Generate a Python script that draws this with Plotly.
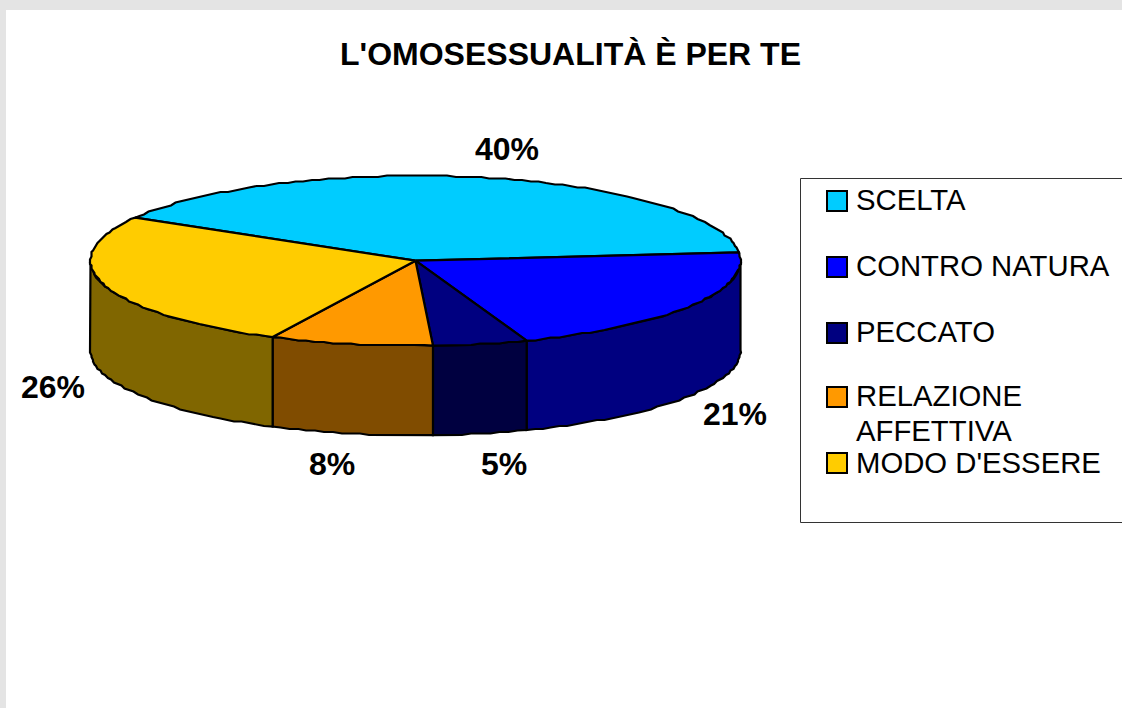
import numpy as np
import plotly.graph_objects as go

# --- data ---
TITLE = "L'OMOSESSUALITÀ È PER TE"
CATEGORIES = ["SCELTA", "CONTRO NATURA", "PECCATO", "RELAZIONE", "MODO D'ESSERE"]
CATEGORY_SECOND_LINE = {"RELAZIONE": "AFFETTIVA"}
VALUES = [40.0, 21.0, 4.7, 8.1, 26.2]

# --- styles ---
TOP_COLORS = ["#00ccff", "#0000ff", "#000080", "#ff9900", "#ffcc00"]
SIDE_COLORS = ["#006680", "#000080", "#000040", "#804c00", "#806600"]
FONT = "Liberation Sans"

# --- layout (axes are in page pixels) ---
W, H = 1122, 708
CX, CY, RX, RY, DEPTH = 415.5, 260.7, 325.0, 85.0, 89.5
START_DEG = 149.6
SNAP = 1.5  # the reference's outline is slightly stepped from upscaling
STEP_DEG = 1.5
LABEL_ANCHORS = [(507, 149), (735, 414), (504, 464), (332, 464), (53, 387)]
LEGEND_X_MARK, LEGEND_X_TEXT = 837, 855.5
LEGEND_Y = [201, 267, 333, 397, 463]
LEGEND_TEXT_TOP = [183, 249, 315, 379, 446]
SECOND_LINE_TOP = 414
BOX = (800.5, 178.5, 1125, 522.5)


def ell(deg, dy=0.0):
    a = np.radians(deg)
    x = CX + RX * np.cos(a)
    y = CY - RY * np.sin(a) + dy
    ends_x, ends_y = x[[0, -1]], y[[0, -1]]
    x = np.round(x / SNAP) * SNAP
    y = np.round(y / SNAP) * SNAP
    x[[0, -1]], y[[0, -1]] = ends_x, ends_y
    return x, y


total = sum(VALUES)
edges = [START_DEG]
for v in VALUES:
    edges.append(edges[-1] - 360.0 * v / total)

fig = go.Figure()
LINE = dict(color="#000000", width=2.2)

# side walls first: only the part of each slice on the front half of the disc
for i, (a0, a1) in enumerate(zip(edges[:-1], edges[1:])):
    hi, lo = min(a0, 0.0), max(a1, -180.0)
    if hi <= lo:
        continue
    t = np.linspace(hi, lo, max(int((hi - lo) / STEP_DEG), 3))
    xt, yt = ell(t)
    xb, yb = ell(t, DEPTH)
    fig.add_trace(go.Scatter(
        x=np.r_[xt, xb[::-1], xt[0]], y=np.r_[yt, yb[::-1], yt[0]],
        mode="lines", fill="toself", fillcolor=SIDE_COLORS[i],
        line=LINE, hoverinfo="skip", showlegend=False))

# top faces
for i, (a0, a1) in enumerate(zip(edges[:-1], edges[1:])):
    t = np.linspace(a0, a1, max(int((a0 - a1) / STEP_DEG), 3))
    xt, yt = ell(t)
    fig.add_trace(go.Scatter(
        x=np.r_[CX, xt, CX], y=np.r_[CY, yt, CY],
        mode="lines", fill="toself", fillcolor=TOP_COLORS[i],
        line=LINE, hoverinfo="skip", showlegend=False))

# legend swatches
for i, name in enumerate(CATEGORIES):
    fig.add_trace(go.Scatter(
        x=[LEGEND_X_MARK], y=[LEGEND_Y[i]], mode="markers",
        marker=dict(symbol="square", size=20, color=TOP_COLORS[i],
                    line=dict(color="#000000", width=2)),
        hoverinfo="skip", showlegend=False))

annotations = []
for v, (x, y) in zip(VALUES, LABEL_ANCHORS):
    annotations.append(dict(
        x=x, y=y, xref="x", yref="y", text=f"<b>{round(v)}%</b>", showarrow=False,
        xanchor="center", yanchor="middle",
        font=dict(family=FONT, size=32, color="#000000")))


def legend_text(text, y):
    return dict(
        x=LEGEND_X_TEXT, y=y, xref="x", yref="y", text=text, showarrow=False,
        xanchor="left", yanchor="top", align="left", borderpad=0, borderwidth=0,
        font=dict(family=FONT, size=29.3, color="#000000"))


for name, y in zip(CATEGORIES, LEGEND_TEXT_TOP):
    annotations.append(legend_text(name, y))
    if name in CATEGORY_SECOND_LINE:
        annotations.append(legend_text(CATEGORY_SECOND_LINE[name], SECOND_LINE_TOP))

annotations.append(dict(
    x=570, y=54, xref="x", yref="y", text=f"<b>{TITLE}</b>", showarrow=False,
    xanchor="center", yanchor="middle",
    font=dict(family=FONT, size=32, color="#000000")))

fig.update_layout(
    width=W, height=H,
    margin=dict(l=6, t=10, r=0, b=0, pad=0),
    paper_bgcolor="#e4e4e4", plot_bgcolor="#ffffff",
    showlegend=False,
    xaxis=dict(range=[6, W], visible=False, fixedrange=True),
    yaxis=dict(range=[H, 10], visible=False, fixedrange=True),
    annotations=annotations,
    shapes=[dict(type="rect", x0=BOX[0], y0=BOX[1], x1=BOX[2], y1=BOX[3],
                 xref="x", yref="y", line=dict(color="#333333", width=1),
                 fillcolor="rgba(0,0,0,0)", layer="below")],
)

fig.write_html("out.html", config=dict(displayModeBar=False),
               post_script="document.body.style.margin='0';document.body.style.overflow='hidden';")
